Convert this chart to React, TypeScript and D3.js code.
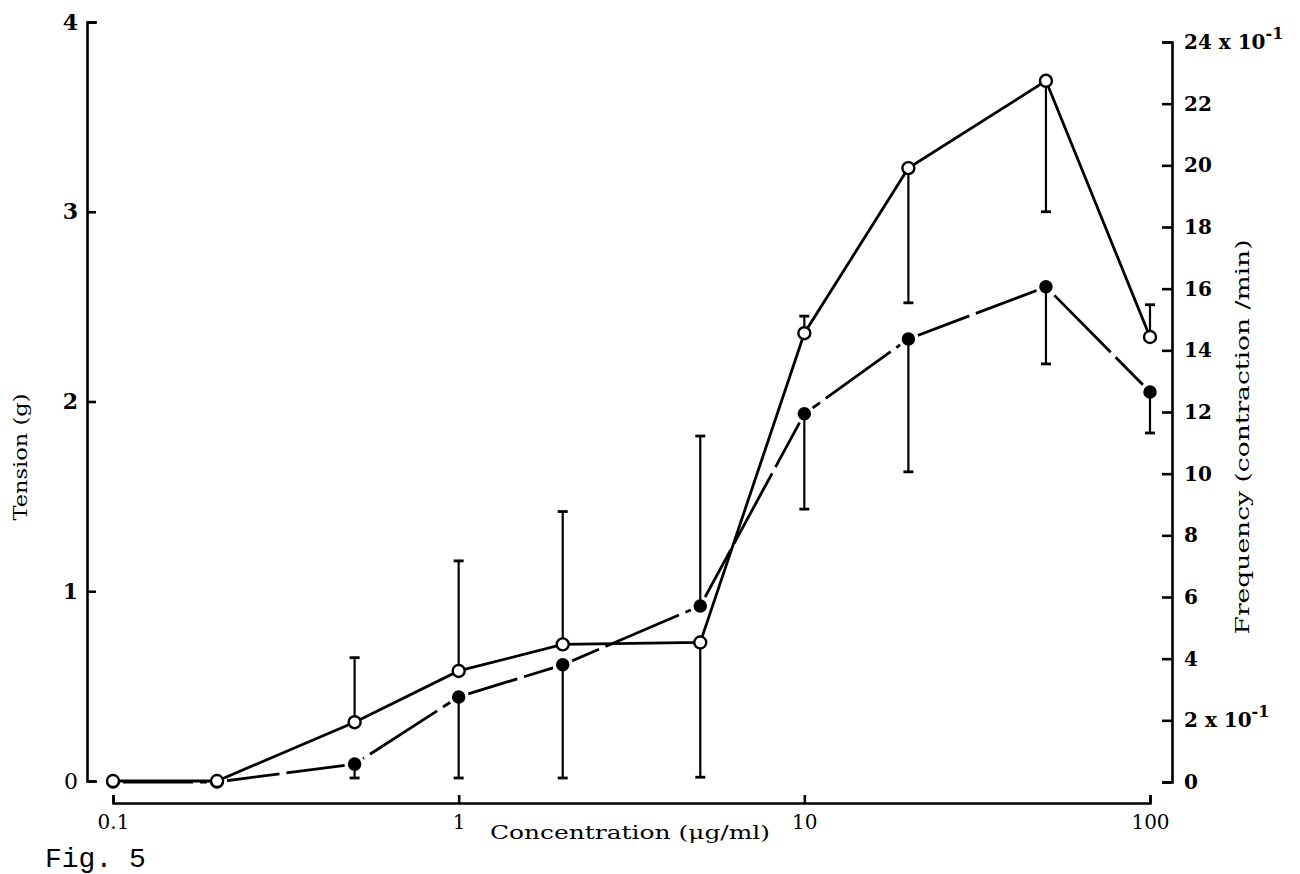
import React, { useEffect, useRef } from 'react';
import * as d3 from 'd3';

// concentration (ug/ml)
const concentrations = [0.1, 0.2, 0.5, 1, 2, 5, 10, 20, 50, 100];
// open circles -> Tension (g), left axis
const tension = [0, 0, 0.31, 0.58, 0.72, 0.73, 2.36, 3.23, 3.69, 2.34];
// one-sided error bars, + goes up, - goes down
const tensionErr = [0, 0, 0.34, 0.58, 0.7, -0.71, 0.09, -0.71, -0.69, 0.17];
// filled circles -> Frequency (x 10^-1 contraction/min), right axis
const frequency = [0, 0, 0.58, 2.76, 3.8, 5.71, 11.94, 14.37, 16.06, 12.65];
const frequencyErr = [0, 0, -0.45, -2.63, -3.67, 5.51, -3.09, -4.31, -2.5, -1.33];

const xTicks = [0.1, 1, 10, 100];
const xTickLabels = ['0.1', '1', '10', '100'];
const tensionTicks = [0, 1, 2, 3, 4];
const freqTicks = [0, 2, 4, 6, 8, 10, 12, 14, 16, 18, 20, 22, 24];
const freqPowerTicks = [2, 24];

const W = 1300, H = 874;
const SERIF = '"DejaVu Serif", serif';

export default function App() {
  const ref = useRef<SVGSVGElement>(null);

  useEffect(() => {
    const svg = d3.select(ref.current);
    svg.selectAll('*').remove();

    const x = d3.scaleLog().domain([0.1, 100]).range([113, 1150]);
    const yL = d3.scaleLinear().domain([0, 4]).range([781, 22]);
    const yR = d3.scaleLinear().domain([0, 24]).range([782, 42]);

    svg.append('rect').attr('width', W).attr('height', H).attr('fill', '#fff');

    // left axis (ticks point inwards, labels on the left)
    const gL = svg.append('g')
      .attr('transform', 'translate(87,0)')
      .call(d3.axisLeft(yL).tickValues(tensionTicks)
        .tickSizeInner(-9).tickSizeOuter(-10).tickPadding(9)
        .tickFormat(d3.format('d')));
    gL.attr('font-family', SERIF).attr('font-size', 22);
    gL.selectAll('text').attr('fill', '#000')
      .attr('font-weight', (d: any) => (d === 0 ? 'normal' : 'bold'));

    // right axis
    const gR = svg.append('g')
      .attr('transform', 'translate(1172,0)')
      .call(d3.axisRight(yR).tickValues(freqTicks)
        .tickSizeInner(-10).tickSizeOuter(-10).tickPadding(12)
        .tickFormat((d: any) => (freqPowerTicks.includes(d) ? `${d}\u00a0x\u00a010` : `${d}`)));
    gR.attr('font-family', SERIF).attr('font-size', 20).attr('font-weight', 'bold');
    gR.selectAll('text').attr('fill', '#000')
      .filter((d: any) => freqPowerTicks.includes(d))
      .append('tspan')
      .attr('dy', -10)
      .attr('font-size', 16)
      .text('-1');

    // bottom axis
    const gB = svg.append('g')
      .attr('transform', 'translate(0,803)')
      .call(d3.axisBottom(x).tickValues(xTicks)
        .tickSizeInner(-8).tickSizeOuter(-8).tickPadding(12)
        .tickFormat((d: any, i: number) => xTickLabels[i]));
    gB.attr('font-family', SERIF).attr('font-size', 20);
    gB.selectAll('text').attr('fill', '#000');

    svg.selectAll('g path.domain, g .tick line')
      .attr('stroke', '#000').attr('stroke-width', 2.6);

    const freqData = concentrations.map((c, i) => ({ c, v: frequency[i], e: frequencyErr[i] }));
    const tenData = concentrations.map((c, i) => ({ c, v: tension[i], e: tensionErr[i] }));

    // filled series (frequency), broken line
    svg.append('path')
      .datum(freqData)
      .attr('fill', 'none')
      .attr('stroke', '#000')
      .attr('stroke-width', 2.8)
      .attr('stroke-dasharray', '80 7')
      .attr('d', d3.line<any>().x(d => x(d.c)).y(d => yR(d.v)));

    svg.selectAll('circle.freq')
      .data(freqData)
      .join('circle')
      .attr('class', 'freq')
      .attr('cx', d => x(d.c))
      .attr('cy', d => yR(d.v))
      .attr('r', 8.5)
      .attr('fill', '#000')
      .attr('stroke', '#fff')
      .attr('stroke-width', 3.5);

    const errBars = (data: any[], y: any, cls: string) => {
      const g = svg.append('g').attr('class', cls).attr('stroke', '#000').attr('stroke-width', 2.2);
      data.filter(d => d.e !== 0).forEach(d => {
        const cx = x(d.c);
        const y0 = y(d.v);
        const y1 = y(d.v + d.e);
        g.append('line').attr('x1', cx).attr('x2', cx).attr('y1', y0).attr('y2', y1);
        g.append('line').attr('x1', cx - 5).attr('x2', cx + 5).attr('y1', y1).attr('y2', y1)
          .attr('stroke-width', 2.8);
      });
    };
    errBars(freqData, yR, 'freq-err');

    // open series (tension)
    svg.append('path')
      .datum(tenData)
      .attr('fill', 'none')
      .attr('stroke', '#000')
      .attr('stroke-width', 2.8)
      .attr('d', d3.line<any>().x(d => x(d.c)).y(d => yL(d.v)));

    errBars(tenData, yL, 'ten-err');

    svg.selectAll('circle.ten')
      .data(tenData)
      .join('circle')
      .attr('class', 'ten')
      .attr('cx', d => x(d.c))
      .attr('cy', d => yL(d.v))
      .attr('r', 6)
      .attr('fill', '#fff')
      .attr('stroke', '#000')
      .attr('stroke-width', 2.4);

    // axis titles
    svg.append('text')
      .attr('transform', 'translate(27,457) rotate(-90)')
      .attr('text-anchor', 'middle')
      .attr('font-family', SERIF)
      .attr('font-size', 18)
      .attr('textLength', 127)
      .attr('lengthAdjust', 'spacingAndGlyphs')
      .text('Tension (g)');

    svg.append('text')
      .attr('transform', 'translate(1249,437) rotate(-90)')
      .attr('text-anchor', 'middle')
      .attr('font-family', SERIF)
      .attr('font-size', 19)
      .attr('fill', '#000')
      .attr('textLength', 395)
      .attr('lengthAdjust', 'spacingAndGlyphs')
      .text('Frequency (contraction /min)');

    svg.append('text')
      .attr('x', 630)
      .attr('y', 839)
      .attr('text-anchor', 'middle')
      .attr('font-family', SERIF)
      .attr('font-size', 19)
      .attr('textLength', 280)
      .attr('lengthAdjust', 'spacingAndGlyphs')
      .text('Concentration (\u03bcg/ml)');

    svg.append('text')
      .attr('x', 45)
      .attr('y', 867)
      .attr('font-family', '"Liberation Mono", monospace')
      .attr('font-size', 28)
      .text('Fig. 5');
  }, []);

  return (
    <svg ref={ref} width={W} height={H}
      style={{ position: 'absolute', left: 0, top: 0, display: 'block' }} />
  );
}
